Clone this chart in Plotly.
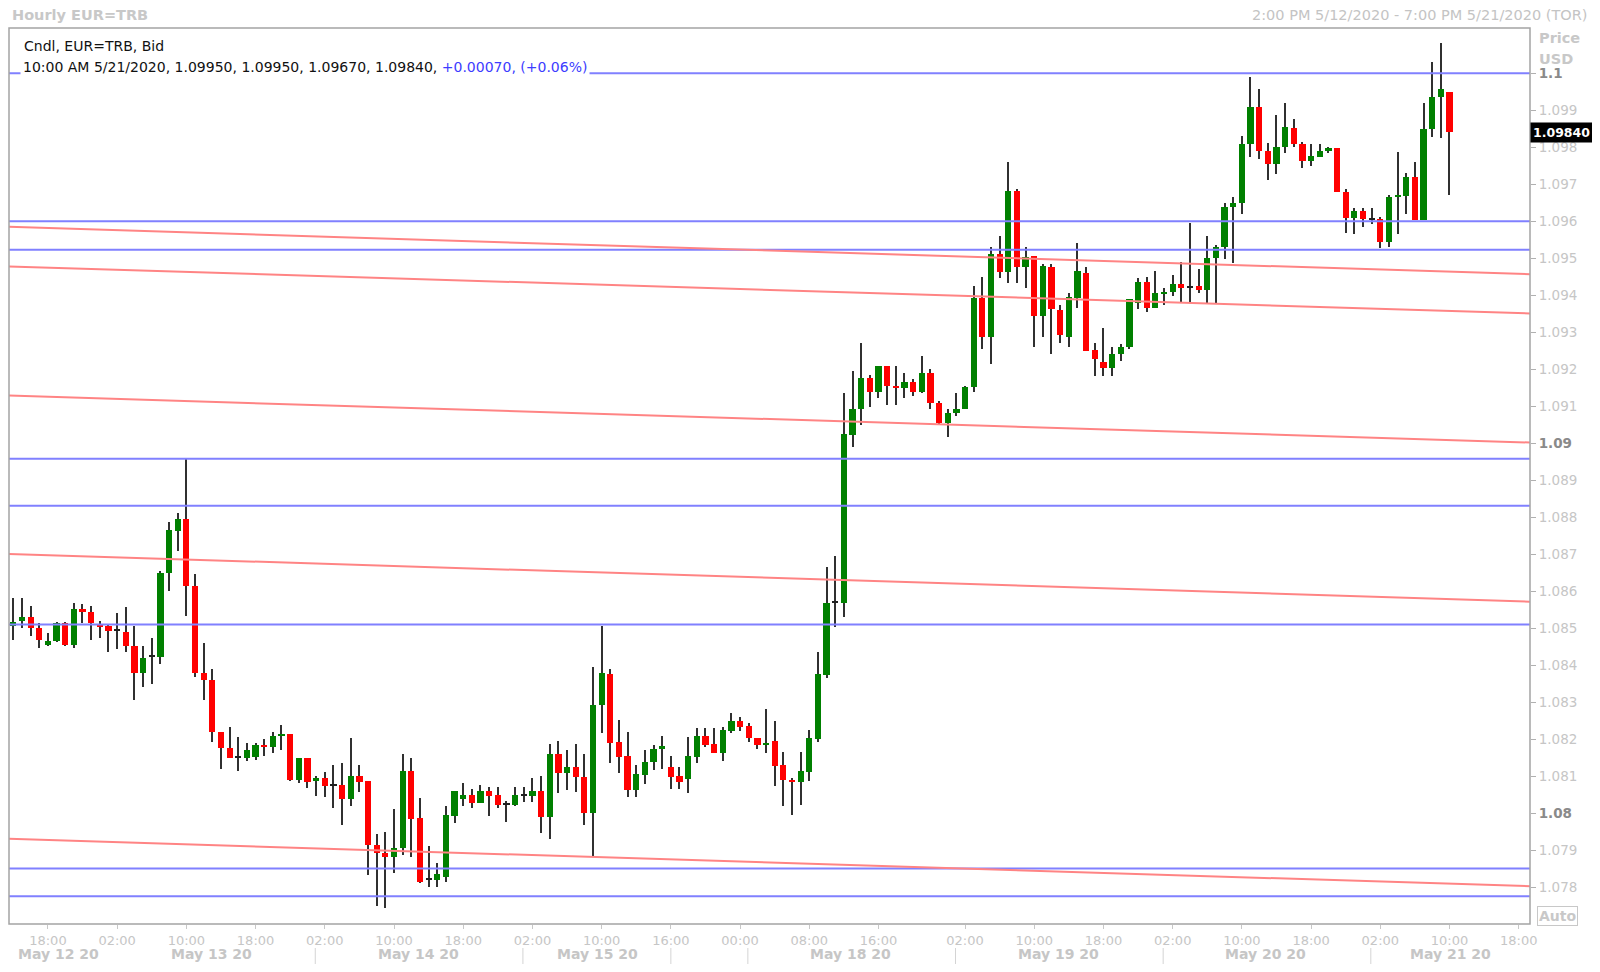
import plotly.graph_objects as go

# ---------------- data ----------------
opens = [1.08505, 1.08519, 1.08531, 1.08500, 1.08455, 1.08466, 1.08515, 1.08455, 1.08551, 1.08545,
         1.08509, 1.08507, 1.08495, 1.08489, 1.08451, 1.08378, 1.08425, 1.08423, 1.08649, 1.08764,
         1.08795, 1.08614, 1.08378, 1.08360, 1.08219, 1.08176, 1.08150, 1.08149, 1.08153, 1.08185,
         1.08180, 1.08209, 1.08213, 1.08090, 1.08150, 1.08086, 1.08096, 1.08076, 1.08076, 1.08038,
         1.08101, 1.08086, 1.07914, 1.07894, 1.07883, 1.07905, 1.08114, 1.07986, 1.07820, 1.07820,
         1.07829, 1.07994, 1.08038, 1.08049, 1.08027, 1.08060, 1.08049, 1.08024, 1.08022, 1.08049,
         1.08048, 1.08060, 1.07989, 1.08160, 1.08110, 1.08124, 1.08099, 1.08000, 1.08293, 1.08376,
         1.08192, 1.08155, 1.08063, 1.08103, 1.08138, 1.08174, 1.08126, 1.08102, 1.08094, 1.08153,
         1.08209, 1.08186, 1.08164, 1.08223, 1.08250, 1.08236, 1.08204, 1.08185, 1.08196, 1.08130,
         1.08090, 1.08084, 1.08112, 1.08200, 1.08375, 1.08569, 1.08569, 1.09022, 1.09092, 1.09176,
         1.09139, 1.09209, 1.09155, 1.09149, 1.09167, 1.09139, 1.09189, 1.09110, 1.09054, 1.09081,
         1.09094, 1.09153, 1.09394, 1.09288, 1.09511, 1.09464, 1.09682, 1.09477, 1.09506, 1.09345,
         1.09476, 1.09360, 1.09288, 1.09394, 1.09459, 1.09252, 1.09221, 1.09203, 1.09240, 1.09259,
         1.09378, 1.09437, 1.09367, 1.09405, 1.09410, 1.09430, 1.09421, 1.09426, 1.09414, 1.09500,
         1.09530, 1.09638, 1.09649, 1.09809, 1.09910, 1.09791, 1.09754, 1.09800, 1.09851, 1.09809,
         1.09764, 1.09775, 1.09791, 1.09797, 1.09680, 1.09610, 1.09629, 1.09605, 1.09605, 1.09543,
         1.09665, 1.09669, 1.09721, 1.09603, 1.09849, 1.09935, 1.09950]
highs = [1.08581, 1.08581, 1.08559, 1.08514, 1.08488, 1.08518, 1.08518, 1.08569, 1.08566, 1.08559,
         1.08521, 1.08509, 1.08541, 1.08557, 1.08505, 1.08451, 1.08473, 1.08656, 1.08786, 1.08811,
         1.08960, 1.08646, 1.08461, 1.08389, 1.08219, 1.08234, 1.08205, 1.08191, 1.08191, 1.08200,
         1.08219, 1.08239, 1.08214, 1.08150, 1.08150, 1.08101, 1.08111, 1.08131, 1.08135, 1.08203,
         1.08131, 1.08086, 1.07944, 1.07950, 1.08012, 1.08160, 1.08150, 1.08040, 1.07912, 1.07867,
         1.08021, 1.08060, 1.08083, 1.08066, 1.08076, 1.08070, 1.08070, 1.08034, 1.08070, 1.08070,
         1.08096, 1.08102, 1.08186, 1.08196, 1.08171, 1.08186, 1.08160, 1.08396, 1.08506, 1.08389,
         1.08252, 1.08221, 1.08130, 1.08171, 1.08185, 1.08209, 1.08155, 1.08124, 1.08205, 1.08230,
         1.08230, 1.08230, 1.08234, 1.08270, 1.08261, 1.08245, 1.08204, 1.08282, 1.08250, 1.08166,
         1.08096, 1.08166, 1.08225, 1.08437, 1.08665, 1.08695, 1.09137, 1.09195, 1.09270, 1.09185,
         1.09209, 1.09209, 1.09209, 1.09191, 1.09173, 1.09236, 1.09200, 1.09114, 1.09094, 1.09135,
         1.09155, 1.09426, 1.09450, 1.09531, 1.09560, 1.09761, 1.09686, 1.09531, 1.09506, 1.09484,
         1.09484, 1.09374, 1.09405, 1.09540, 1.09477, 1.09270, 1.09311, 1.09261, 1.09268, 1.09389,
         1.09448, 1.09450, 1.09466, 1.09421, 1.09455, 1.09491, 1.09596, 1.09470, 1.09560, 1.09536,
         1.09650, 1.09665, 1.09830, 1.09989, 1.09957, 1.09811, 1.09887, 1.09921, 1.09876, 1.09815,
         1.09809, 1.09809, 1.09802, 1.09797, 1.09686, 1.09635, 1.09635, 1.09635, 1.09611, 1.09671,
         1.09786, 1.09730, 1.09761, 1.09921, 1.10031, 1.10081, 1.09950]
lows = [1.08469, 1.08500, 1.08479, 1.08446, 1.08451, 1.08463, 1.08451, 1.08446, 1.08514, 1.08469,
        1.08473, 1.08435, 1.08444, 1.08435, 1.08305, 1.08340, 1.08350, 1.08404, 1.08601, 1.08710,
        1.08532, 1.08369, 1.08305, 1.08194, 1.08119, 1.08149, 1.08114, 1.08140, 1.08144, 1.08155,
        1.08164, 1.08171, 1.08086, 1.08083, 1.08069, 1.08048, 1.08043, 1.08013, 1.07968, 1.08020,
        1.08058, 1.07833, 1.07749, 1.07745, 1.07840, 1.07887, 1.07883, 1.07811, 1.07800, 1.07800,
        1.07813, 1.07973, 1.08020, 1.08015, 1.08027, 1.07994, 1.08015, 1.07977, 1.08020, 1.08031,
        1.08031, 1.07948, 1.07930, 1.08054, 1.08063, 1.08058, 1.07968, 1.07885, 1.08218, 1.08137,
        1.08110, 1.08043, 1.08043, 1.08079, 1.08117, 1.08121, 1.08065, 1.08065, 1.08054, 1.08137,
        1.08180, 1.08164, 1.08142, 1.08218, 1.08223, 1.08194, 1.08175, 1.08164, 1.08074, 1.08020,
        1.07995, 1.08022, 1.08088, 1.08194, 1.08365, 1.08504, 1.08530, 1.08991, 1.09049, 1.09099,
        1.09123, 1.09103, 1.09103, 1.09123, 1.09128, 1.09135, 1.09094, 1.09049, 1.09018, 1.09074,
        1.09092, 1.09138, 1.09254, 1.09213, 1.09446, 1.09434, 1.09434, 1.09419, 1.09259, 1.09288,
        1.09240, 1.09272, 1.09259, 1.09367, 1.09250, 1.09183, 1.09183, 1.09183, 1.09223, 1.09255,
        1.09362, 1.09354, 1.09367, 1.09374, 1.09398, 1.09383, 1.09380, 1.09405, 1.09380, 1.09380,
        1.09497, 1.09488, 1.09621, 1.09775, 1.09768, 1.09712, 1.09728, 1.09785, 1.09800, 1.09743,
        1.09749, 1.09775, 1.09784, 1.09678, 1.09569, 1.09565, 1.09584, 1.09594, 1.09527, 1.09530,
        1.09565, 1.09621, 1.09603, 1.09603, 1.09829, 1.09824, 1.09670]
closes = [1.08518, 1.08531, 1.08500, 1.08469, 1.08466, 1.08515, 1.08455, 1.08551, 1.08545, 1.08514,
          1.08505, 1.08494, 1.08495, 1.08451, 1.08378, 1.08419, 1.08425, 1.08649, 1.08766, 1.08795,
          1.08614, 1.08378, 1.08360, 1.08219, 1.08176, 1.08149, 1.08150, 1.08171, 1.08185, 1.08180,
          1.08209, 1.08214, 1.08090, 1.08150, 1.08084, 1.08096, 1.08075, 1.08076, 1.08038, 1.08101,
          1.08084, 1.07914, 1.07894, 1.07883, 1.07905, 1.08114, 1.07984, 1.07813, 1.07820, 1.07836,
          1.07995, 1.08060, 1.08049, 1.08027, 1.08060, 1.08048, 1.08022, 1.08024, 1.08049, 1.08049,
          1.08060, 1.07989, 1.08160, 1.08110, 1.08124, 1.08099, 1.08000, 1.08294, 1.08380, 1.08189,
          1.08153, 1.08063, 1.08106, 1.08139, 1.08175, 1.08182, 1.08099, 1.08084, 1.08155, 1.08209,
          1.08185, 1.08164, 1.08225, 1.08250, 1.08234, 1.08203, 1.08185, 1.08191, 1.08128, 1.08090,
          1.08084, 1.08114, 1.08203, 1.08376, 1.08569, 1.08569, 1.09025, 1.09092, 1.09176, 1.09139,
          1.09209, 1.09155, 1.09149, 1.09167, 1.09139, 1.09189, 1.09108, 1.09054, 1.09081, 1.09094,
          1.09151, 1.09394, 1.09288, 1.09511, 1.09464, 1.09682, 1.09477, 1.09504, 1.09345, 1.09480,
          1.09362, 1.09293, 1.09396, 1.09466, 1.09250, 1.09228, 1.09203, 1.09241, 1.09261, 1.09389,
          1.09437, 1.09365, 1.09405, 1.09410, 1.09430, 1.09419, 1.09421, 1.09414, 1.09500, 1.09531,
          1.09639, 1.09650, 1.09809, 1.09910, 1.09790, 1.09754, 1.09802, 1.09856, 1.09809, 1.09764,
          1.09776, 1.09791, 1.09797, 1.09680, 1.09610, 1.09629, 1.09606, 1.09605, 1.09543, 1.09665,
          1.09671, 1.09721, 1.09603, 1.09849, 1.09937, 1.09957, 1.09840]

# horizontal support/resistance levels (blue)
levels = [1.1000, 1.0960, 1.09523, 1.08958, 1.08831, 1.0851, 1.07851, 1.07776]
# sloping channel lines (red): value at the left and right edge of the chart
channel_left = [1.09585, 1.09478, 1.09129, 1.08701, 1.07931]
channel_right = [1.09457, 1.09351, 1.09002, 1.08572, 1.07803]

# time axis
tick_bars = [4, 12, 20, 28, 36, 44, 52, 60, 68, 76, 84, 92, 100, 110, 118, 126, 134, 142, 150, 158, 166, 174]
tick_labels = ["18:00", "02:00", "10:00", "18:00", "02:00", "10:00", "18:00", "02:00", "10:00", "16:00",
               "00:00", "08:00", "16:00", "02:00", "10:00", "18:00", "02:00", "10:00", "18:00", "02:00",
               "10:00", "18:00"]
day_labels = ["May 12 20", "May 13 20", "May 14 20", "May 15 20", "May 18 20", "May 19 20", "May 20 20", "May 21 20"]
day_centers = [5.2, 22.9, 46.8, 67.5, 96.8, 120.8, 144.7, 166.1]
day_breaks = [34.9, 58.9, 76.0, 84.9, 108.9, 132.9, 156.9]

price_ticks = [1.078 + 0.001 * k for k in range(23)]
last_price = 1.09840

# ---------------- figure ----------------
# the page body has an 8px margin, so page pixel p maps to figure pixel p - 8
OFF = 8
W, H = 1600, 972
ML, MR, MT, MB = 1, 78, 20, 56
PW, PH = W - ML - MR, H - MT - MB
X0, X1 = -0.5, 175.3
Y0, Y1 = 1.077008, 1.101224


def px_x(px):  # page pixel -> paper x
    return (px - OFF - ML) / PW


def px_y(py):  # page pixel -> paper y
    return (H - MB - (py - OFF)) / PH


idx = list(range(len(opens)))
GREEN, RED, DOJI = "#008000", "#ff0000", "#202020"
body_base, body_h, body_col = [], [], []
for o, c in zip(opens, closes):
    body_base.append(min(o, c))
    body_h.append(max(abs(c - o), 0.00003))
    body_col.append(GREEN if c > o else (RED if c < o else DOJI))

fig = go.Figure()
# wicks
fig.add_trace(go.Bar(x=idx, y=[h - l for h, l in zip(highs, lows)], base=lows, width=0.13,
                     marker=dict(color="#303030", line=dict(width=0)), hoverinfo="skip"))
# bodies
fig.add_trace(go.Bar(x=idx, y=body_h, base=body_base, width=0.72,
                     marker=dict(color=body_col, line=dict(width=0)), hoverinfo="skip"))

for lv in levels:
    fig.add_trace(go.Scatter(x=[X0, X1], y=[lv, lv], mode="lines",
                             line=dict(color="#8080ff", width=2), hoverinfo="skip"))
for a, b in zip(channel_left, channel_right):
    fig.add_trace(go.Scatter(x=[X0, X1], y=[a, b], mode="lines",
                             line=dict(color="#ff8484", width=2), hoverinfo="skip"))

FONT = "DejaVu Sans"
LG = "#c6c6c6"


def ytxt(v):
    s = ("%.3f" % v).rstrip("0").rstrip(".")
    if abs(v * 100 - round(v * 100)) < 1e-6:
        return "<b><span style='color:#8a8a8a'>%s</span></b>" % s
    return s


fig.update_layout(
    width=W, height=H, margin=dict(l=ML, r=MR, t=MT, b=MB, pad=0),
    paper_bgcolor="white", plot_bgcolor="white", showlegend=False, barmode="overlay",
    bargap=0,
    xaxis=dict(range=[X0, X1], showgrid=False, zeroline=False, showline=False,
               tickmode="array", tickvals=tick_bars, ticktext=tick_labels,
               ticks="outside", ticklen=4, tickcolor="#c8c8c8", tickwidth=1,
               tickfont=dict(family=FONT, size=13, color=LG)),
    yaxis=dict(range=[Y0, Y1], side="right", showgrid=False, zeroline=False, showline=False,
               tickmode="array", tickvals=price_ticks, ticktext=[ytxt(v) for v in price_ticks],
               ticks="outside", ticklen=5, tickcolor="#b0b0b0", tickwidth=1,
               tickfont=dict(family=FONT, size=13.5, color=LG)),
)

shapes = [
    # plot frame
    dict(type="rect", xref="paper", yref="paper", x0=0, x1=1, y0=0, y1=1,
         line=dict(color="#a4a4a4", width=1.5), layer="above"),
]
for b in day_breaks:
    shapes.append(dict(type="line", xref="x", yref="paper", x0=b, x1=b, y0=px_y(948), y1=px_y(964),
                       line=dict(color="#d4d4d4", width=1)))
fig.update_layout(shapes=shapes)

ann = []
for lab, c in zip(day_labels, day_centers):
    ann.append(dict(x=c, y=px_y(954), xref="x", yref="paper", text="<b>%s</b>" % lab, showarrow=False,
                    xanchor="center", yanchor="middle", font=dict(family=FONT, size=14, color=LG)))
ann += [
    dict(x=px_x(10), y=px_y(15), xref="paper", yref="paper", text="<b>Hourly EUR=TRB</b>", showarrow=False,
         xanchor="left", yanchor="middle", font=dict(family=FONT, size=14.5, color="#c8c8c8")),
    dict(x=px_x(1589), y=px_y(15), xref="paper", yref="paper",
         text="2:00 PM 5/12/2020 - 7:00 PM 5/21/2020 (TOR)", showarrow=False,
         xanchor="right", yanchor="middle", font=dict(family=FONT, size=14.5, color="#c4c4c4")),
    dict(x=px_x(1537), y=px_y(38), xref="paper", yref="paper", text="<b>Price</b>", showarrow=False,
         xanchor="left", yanchor="middle", font=dict(family=FONT, size=14.5, color="#c8c8c8")),
    dict(x=px_x(1537), y=px_y(59), xref="paper", yref="paper", text="<b>USD</b>", showarrow=False,
         xanchor="left", yanchor="middle", font=dict(family=FONT, size=14.5, color="#c8c8c8")),
    dict(x=px_x(22), y=px_y(46), xref="paper", yref="paper", text="Cndl, EUR=TRB, Bid", showarrow=False,
         xanchor="left", yanchor="middle", font=dict(family=FONT, size=14, color="#111111")),
    dict(x=px_x(20), y=px_y(67), xref="paper", yref="paper",
         text="10:00 AM 5/21/2020, 1.09950, 1.09950, 1.09670, 1.09840, "
              "<span style='color:#3c3cff'>+0.00070, (+0.06%)</span>",
         showarrow=False, xanchor="left", yanchor="middle", bgcolor="white", borderpad=2,
         font=dict(family=FONT, size=14, color="#111111")),
    dict(x=1.0, y=last_price, xref="paper", yref="y", text="<b>%.5f</b>" % last_price, showarrow=False,
         xanchor="left", yanchor="middle", bgcolor="black", borderpad=2,
         font=dict(family=FONT, size=12.5, color="white")),
    dict(x=px_x(1557), y=px_y(915.5), xref="paper", yref="paper", text="<b>Auto</b>", showarrow=False,
         xanchor="center", yanchor="middle", bgcolor="white", bordercolor="#c8c8c8", borderwidth=1,
         borderpad=1, font=dict(family=FONT, size=14, color="#c8c8c8")),
]
fig.update_layout(annotations=ann)

fig.write_html("out.html")
